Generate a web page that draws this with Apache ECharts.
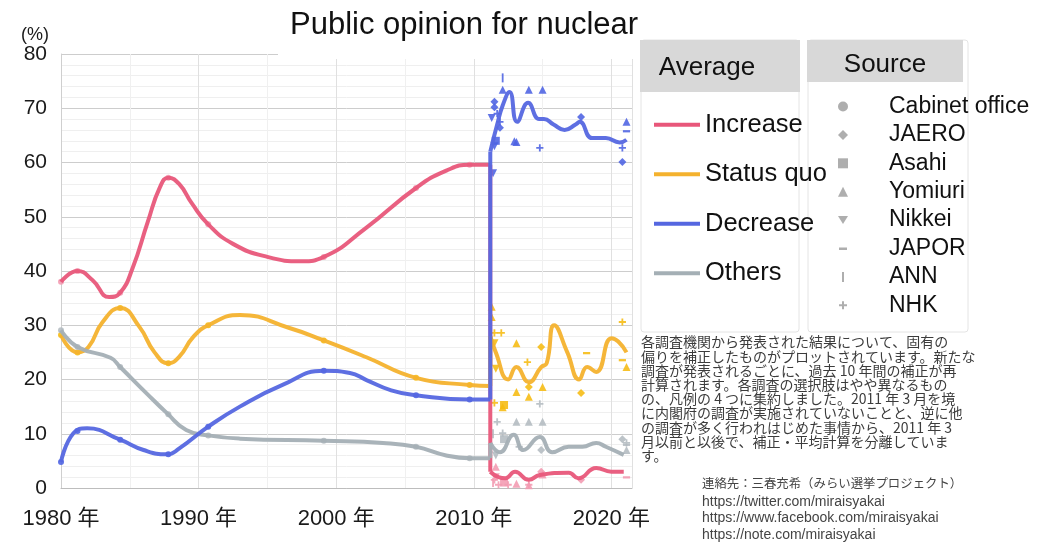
<!DOCTYPE html>
<html>
<head>
<meta charset="utf-8">
<script src="https://cdn.jsdelivr.net/npm/echarts@6/dist/echarts.min.js"></script>
<style>
  html, body { margin: 0; padding: 0; background: #fff; }
  #chart { width: 1039px; height: 545px; }
</style>
</head>
<body>
<div id="chart"></div>
<script>
// average lines, [year, %] ; split at March 2011
const increasePre = [[1980,38],[1981.2,40],[1982.3,38.3],[1983.5,35.2],[1984.3,36],[1985.2,40.5],[1986.3,49],[1987.2,55.5],[1987.8,57.2],[1988.6,56],[1989.5,52.5],[1990.7,48.6],[1992.5,45],[1995,42.6],[1997.5,41.8],[1999.1,42.6],[2002.2,48],[2005.8,55.3],[2008,58.5],[2009.7,59.6],[2011.2,59.6]]
const statusQuoPre = [[1980,28.2],[1981.2,25],[1982,26],[1983,30.5],[1984.3,33.2],[1985.7,29.7],[1986.8,25],[1987.8,23],[1988.6,24.2],[1989.6,27.8],[1990.7,30],[1993,31.9],[1996.6,29.5],[1999.1,27.2],[2002.2,24.1],[2005.8,20.3],[2009.7,19],[2011.2,18.8]]
const decreasePre = [[1980,4.8],[1980.9,10.1],[1981.9,11],[1984.3,8.9],[1986,7],[1987.7,6.2],[1988.6,7.3],[1990.7,11.3],[1993,15],[1996.1,19],[1999.1,21.6],[2001,21.2],[2002.2,19.9],[2004,18],[2005.8,17.1],[2009.7,16.3],[2011.2,16.3]]
const othersPre = [[1980,29.1],[1981.2,26],[1983.6,24],[1984.3,22.3],[1986.2,17.5],[1987.7,13.8],[1989.1,10.7],[1990.7,9.7],[1993,9.1],[1999.1,8.7],[2003.4,8.3],[2005.8,7.6],[2008,6],[2009.7,5.5],[2011.2,5.5]]

const increasePost = [[2011.2,3],[2011.8,2],[2012.3,1.8],[2013.0,3],[2014.0,1.5],[2014.8,2.4],[2016.9,2.8],[2017.6,1.8],[2018.9,3.7],[2020,3],[2020.9,3]]
const statusQuoPost = [[2011.2,28],[2011.6,25],[2012.5,20],[2013.1,22.3],[2014,19.5],[2014.9,22.3],[2015.3,23],[2015.85,30],[2016.8,25],[2017.66,20],[2018.24,22.3],[2018.9,21.4],[2020,27.6],[2020.5,27],[2021.1,25]]
const decreasePost = [[2011.2,62],[2011.7,67],[2012.1,70.5],[2012.6,73],[2013.15,67.5],[2013.95,71],[2014.75,68],[2015.1,68],[2015.8,67],[2016.6,66],[2017.4,67],[2017.7,67.5],[2018.6,64.5],[2019.6,64.5],[2020.6,63.7],[2021.1,64.2]]
const othersPost = [[2011.2,8.3],[2011.9,6.6],[2012.9,9.8],[2013.6,7],[2014.8,9.4],[2015.7,6.6],[2016.9,7.6],[2017.9,7.6],[2018.9,8.3],[2019.6,7.6],[2020.9,6.1]]

// survey results [year, %, category]  I=increase S=status quo D=decrease O=others
const cabinetPts = [[1980,38,'I'],[1980,28.2,'S'],[1980,4.8,'D'],[1980,29.1,'O'],[1981.2,40,'I'],[1981.2,25,'S'],[1981.2,10.5,'D'],[1981.2,26,'O'],[1984.3,36,'I'],[1984.3,33.2,'S'],[1984.3,8.9,'D'],[1984.3,22.3,'O'],[1987.8,57.2,'I'],[1987.8,23,'S'],[1987.8,6.2,'D'],[1987.8,13.6,'O'],[1990.7,48.6,'I'],[1990.7,30,'S'],[1990.7,11.3,'D'],[1990.7,9.7,'O'],[1999.1,42.6,'I'],[1999.1,27.2,'S'],[1999.1,21.6,'D'],[1999.1,8.7,'O'],[2005.8,55.3,'I'],[2005.8,20.3,'S'],[2005.8,17.1,'D'],[2005.8,7.6,'O'],[2009.7,59.6,'I'],[2009.7,19,'S'],[2009.7,16.3,'D'],[2009.7,5.5,'O']]
const jaeroPts = [[2011.5,71.2,'D'],[2011.5,70.2,'D'],[2011.9,66.4,'D'],[2017.8,68.4,'D'],[2020.8,60.1,'D'],[2014.9,26,'S'],[2014.0,18.6,'S'],[2017.8,17.5,'S'],[2014.9,7,'O'],[2020.8,9,'O'],[2014.9,3,'I'],[2017.8,1.5,'I']]
const asahiPts = [[2011.6,64,'D'],[2012.2,15.3,'S'],[2012.2,9,'O'],[2012.2,1,'I']]
const yomiuriPts = [[2012.1,73.4,'D'],[2014.0,73.4,'D'],[2015.0,73.4,'D'],[2013.1,63.8,'D'],[2012.95,63.9,'D'],[2021.1,67.5,'D'],[2011.3,33.4,'S'],[2011.3,31.5,'S'],[2013.1,26.7,'S'],[2013.1,17.7,'S'],[2014.0,16.8,'S'],[2015.0,18.6,'S'],[2021.1,22.3,'S'],[2012.1,14.9,'S'],[2013.1,12.2,'O'],[2014.0,12.2,'O'],[2015.0,12.2,'O'],[2021.1,7,'O'],[2013.1,0.8,'I'],[2014.0,0.5,'I'],[2015.0,2.5,'I'],[2011.6,3.9,'I']]
const nikkeiPts = [[2011.3,68.2,'D'],[2011.4,58,'D'],[2011.5,63,'D'],[2011.5,26.7,'S'],[2011.6,22,'S'],[2011.6,6,'O'],[2011.6,2,'I']]
const japorPts = [[2021.1,65.8,'D'],[2018.2,24.9,'S'],[2020.8,23.6,'S'],[2021.1,8,'O'],[2021.1,2,'I']]
const annPts = [[2012.1,75.6,'D'],[2011.4,10,'O'],[2011.4,1,'I']]
const nhkPts = [[2011.7,69,'D'],[2011.9,67.5,'D'],[2014.8,62.7,'D'],[2020.8,62.7,'D'],[2011.5,28.6,'S'],[2012.0,28.6,'S'],[2013.9,23.2,'S'],[2011.5,15.7,'S'],[2020.8,30.6,'S'],[2011.7,12.2,'O'],[2012.1,10.1,'O'],[2013.3,7.6,'O'],[2014.8,15.5,'O'],[2021.1,8.3,'O'],[2011.5,1.5,'I'],[2011.8,0.6,'I'],[2012.5,0.6,'I'],[2014.0,0.6,'I']]

const yTicks = [0, 10, 20, 30, 40, 50, 60, 70, 80]
const xTicks = [1980, 1990, 2000, 2010, 2020]
const legendOrder = ['Increase', 'Status quo', 'Decrease', 'Others']

const lineColor = { I: '#e8577a', S: '#f4b22e', D: '#5567e0', O: '#a4afb5' }
const pointColor = { I: '#f29ab0', S: '#f6bb10', D: '#4c62e2', O: '#b3bbc0' }

const averages = [
    { key: 'I', name: 'Increase', pre: increasePre, post: increasePost },
    { key: 'S', name: 'Status quo', pre: statusQuoPre, post: statusQuoPost },
    { key: 'O', name: 'Others', pre: othersPre, post: othersPost },
    { key: 'D', name: 'Decrease', pre: decreasePre, post: decreasePost }
]

const sources = [
    { name: 'Cabinet office', symbol: 'circle', size: 6, pts: cabinetPts },
    { name: 'JAERO', symbol: 'diamond', size: 8, pts: jaeroPts },
    { name: 'Asahi', symbol: 'rect', size: 8, pts: asahiPts },
    { name: 'Yomiuri', symbol: 'triangle', size: 8, pts: yomiuriPts },
    { name: 'Nikkei', symbol: 'path://M0,1L10,1L5,9Z', size: 8, pts: nikkeiPts },
    { name: 'JAPOR', symbol: 'path://M0,0M10,10M1,4h8v2.5h-8z', size: 9, pts: japorPts },
    { name: 'ANN', symbol: 'path://M0,0M10,10M4,0h2v10h-2z', size: 9, pts: annPts },
    { name: 'NHK', symbol: 'path://M0,0M10,10M4,1h2v3h3v2h-3v3h-2v-3h-3v-2h3z', size: 9, pts: nhkPts }
]

const noteText = [
    '各調査機関から発表された結果について、固有の',
    '偏りを補正したものがプロットされています。新たな',
    '調査が発表されるごとに、過去 10 年間の補正が再',
    '計算されます。各調査の選択肢はやや異なるもの',
    'の、凡例の 4 つに集約しました。2011 年 3 月を境',
    'に内閣府の調査が実施されていないことと、逆に他',
    'の調査が多く行われはじめた事情から、2011 年 3',
    '月以前と以後で、補正・平均計算を分離していま',
    'す。'
]
const contactName = '連絡先：三春充希（みらい選挙プロジェクト）'
const contactLinks = [
    'https://twitter.com/miraisyakai',
    'https://www.facebook.com/miraisyakai',
    'https://note.com/miraisyakai'
]

const FONT = 'Liberation Sans, Arial, Noto Sans CJK JP, sans-serif'
const CJK = 'Noto Sans CJK JP, sans-serif'

let chart = echarts.init(document.getElementById('chart'))

let series = []
// scatter of each source first so the average lines sit on top
sources.forEach(src => {
    series.push({
        name: src.name,
        type: 'scatter',
        symbol: src.symbol,
        symbolSize: src.size,
        itemStyle: { color: '#9a9a9a' },
        z: 2,
        data: src.pts.map(p => ({ value: [p[0], p[1]], itemStyle: { color: pointColor[p[2]], opacity: 0.88 } }))
    })
})
averages.forEach(a => {
    let style = { color: lineColor[a.key], width: 4, opacity: 0.95 }
    series.push({ name: a.name, type: 'line', data: a.pre, smooth: 0.5, showSymbol: false, lineStyle: style, itemStyle: { color: lineColor[a.key] }, z: 3 })
    // jump at March 2011
    series.push({ name: a.name, type: 'line', data: [a.pre[a.pre.length - 1], a.post[0]], showSymbol: false, lineStyle: style, itemStyle: { color: lineColor[a.key] }, z: 3 })
    series.push({ name: a.name, type: 'line', data: a.post, smooth: 0.5, showSymbol: false, lineStyle: style, itemStyle: { color: lineColor[a.key] }, z: 3 })
})

let option = {
    animation: false,
    backgroundColor: '#fff',
    title: {
        text: 'Public opinion for nuclear',
        left: 278,
        top: 6,
        padding: [4, 2, 18, 12],
        backgroundColor: '#fff',
        textStyle: { fontSize: 31, fontWeight: 'normal', color: '#111', fontFamily: FONT }
    },
    grid: { left: 61, right: 407, top: 54, bottom: 57 },
    xAxis: {
        type: 'value',
        min: 1980,
        max: 2021.5,
        interval: 10,
        axisLine: { show: true, lineStyle: { color: '#bdbdbd' } },
        axisTick: { show: false },
        axisLabel: {
            fontSize: 22, color: '#1a1a1a', margin: 20, fontFamily: FONT,
            formatter: v => xTicks.indexOf(v) >= 0 ? v + ' 年' : ''
        },
        splitLine: { show: true, lineStyle: { color: '#e0e0e0' } },
        minorTick: { show: false, splitNumber: 2 },
        minorSplitLine: { show: true, lineStyle: { color: '#f0f0f0' } }
    },
    yAxis: {
        type: 'value',
        min: 0,
        max: 80,
        interval: 10,
        name: '(%)',
        nameLocation: 'end',
        nameGap: -4,
        nameTextStyle: { fontSize: 18, color: '#1a1a1a', align: 'right', padding: [0, 12, 0, 0], fontFamily: FONT },
        axisLine: { show: true, lineStyle: { color: '#cfcfcf' } },
        axisTick: { show: false },
        axisLabel: {
            fontSize: 21, color: '#1a1a1a', margin: 14, fontFamily: FONT,
            formatter: v => yTicks.indexOf(v) >= 0 ? String(v) : ''
        },
        splitLine: { show: true, lineStyle: { color: '#cdcdcd' } },
        minorTick: { show: false, splitNumber: 5 },
        minorSplitLine: { show: true, lineStyle: { color: '#efefef' } }
    },
    legend: [
        {
            data: legendOrder,
            orient: 'vertical',
            left: 649,
            top: 107,
            icon: 'rect',
            itemWidth: 46,
            itemHeight: 4,
            itemGap: 24,
            selectedMode: false,
            textStyle: { fontSize: 25.5, color: '#111', fontFamily: FONT }
        },
        {
            data: sources.map(s => s.name),
            orient: 'vertical',
            left: 833,
            top: 90,
            itemWidth: 10,
            itemHeight: 10,
            itemGap: 5.4,
            selectedMode: false,
            textStyle: { fontSize: 23, color: '#111', fontFamily: FONT, padding: [0, 0, 0, 36] }
        }
    ],
    graphic: [
        { type: 'rect', z: 1, shape: { x: 641, y: 40, width: 158, height: 292, r: 3 }, style: { fill: '#fff', stroke: '#e4e4e4', lineWidth: 1 } },
        { type: 'rect', z: 1, shape: { x: 808, y: 40, width: 160, height: 292, r: 3 }, style: { fill: '#fff', stroke: '#e4e4e4', lineWidth: 1 } },
        { type: 'rect', z: 10, shape: { x: 640, y: 40, width: 160, height: 52 }, style: { fill: '#d8d8d8' } },
        { type: 'rect', z: 10, shape: { x: 807, y: 40, width: 156, height: 42 }, style: { fill: '#d8d8d8' } },
        { type: 'text', z: 11, style: { text: 'Average', x: 707, y: 68, fontSize: 26, fontFamily: FONT, fill: '#111', align: 'center', verticalAlign: 'middle' } },
        { type: 'text', z: 11, style: { text: 'Source', x: 885, y: 65, fontSize: 26, fontFamily: FONT, fill: '#111', align: 'center', verticalAlign: 'middle' } },
        { type: 'text', z: 11, style: { text: noteText.join('\n'), x: 641, y: 335, fontSize: 14, lineHeight: 14.2, fontFamily: CJK, fill: '#3c3c3c' } },
        { type: 'text', z: 11, style: { text: contactName, x: 702, y: 477, fontSize: 12.4, fontFamily: CJK, fill: '#444' } },
        { type: 'text', z: 11, style: { text: contactLinks.join('\n'), x: 702, y: 494, fontSize: 14, lineHeight: 16.3, fontFamily: 'Liberation Sans, sans-serif', fill: '#444' } }
    ],
    series: series
}

chart.setOption(option)
</script>
</body>
</html>
